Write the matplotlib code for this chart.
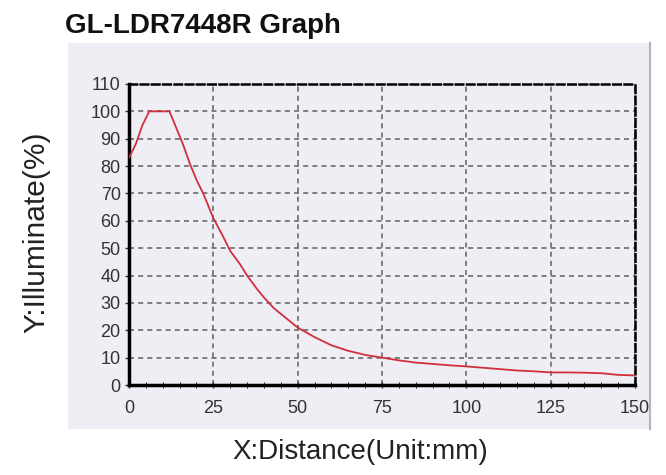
import matplotlib
matplotlib.use("Agg")
import matplotlib.pyplot as plt
from matplotlib.patches import Rectangle
from matplotlib.lines import Line2D
from matplotlib.ticker import MultipleLocator

plt.rcParams['font.family'] = ['Liberation Sans', 'DejaVu Sans']

title = "GL-LDR7448R Graph"
x_label = "X:Distance(Unit:mm)"
y_label = "Y:Illuminate(%)"

distance = [0, 2, 4, 6, 8, 10, 12, 14, 16, 18, 20, 22, 25, 28, 30, 33, 35, 38, 40,
            43, 45, 48, 50, 55, 60, 65, 70, 75, 80, 85, 90, 95, 100, 105, 110, 115,
            120, 125, 130, 135, 140, 145, 150]
illuminate = [83, 88, 95, 100, 100, 100, 100, 94, 88, 81, 75, 70, 61, 54, 49, 44, 40,
              35, 32, 28, 26, 23, 21, 17.5, 14.5, 12.5, 11, 10, 9, 8.2, 7.7, 7.2, 6.8,
              6.3, 5.8, 5.3, 5.0, 4.6, 4.6, 4.5, 4.3, 3.7, 3.5]

x_ticks = [0, 25, 50, 75, 100, 125, 150]
y_ticks = [0, 10, 20, 30, 40, 50, 60, 70, 80, 90, 100, 110]

W, H = 666, 475
fig = plt.figure(figsize=(W / 100, H / 100), dpi=100)
fig.patch.set_facecolor('white')

# marble-like panel
panel = Rectangle((68 / W, 1 - 429 / H), (650 - 68) / W, (429 - 43) / H,
                  transform=fig.transFigure, facecolor='#efeef4', edgecolor='none', zorder=-5)
fig.patches.append(panel)
fig.lines.append(Line2D([650 / W, 650 / W], [1 - 429 / H, 1 - 43 / H],
                        transform=fig.transFigure, color='#b4b4bc', lw=1.5, zorder=-4))

ax = fig.add_axes([129 / W, 1 - 385 / H, (635 - 129) / W, (385 - 84) / H])
ax.set_zorder(2)
ax.set_facecolor('none')
ax.plot(distance, illuminate, color='#d0303c', lw=1.3, zorder=3)

ax.set_xlim(0, 150)
ax.set_ylim(0, 110)
ax.set_xticks(x_ticks)
ax.set_yticks(y_ticks)
ax.xaxis.set_minor_locator(MultipleLocator(5))
ax.tick_params(axis='both', labelsize=13, colors='#333333', width=1, length=3)
ax.tick_params(axis='x', which='both', direction='inout', length=4, pad=9)
ax.tick_params(axis='y', pad=3)

ax.grid(True, which='major', color='#6a6a6a', linestyle=(0, (3, 2.5)), lw=1.2)

for s in ['left', 'bottom']:
    ax.spines[s].set_linewidth(2.5)
    ax.spines[s].set_color('black')
for s in ['top', 'right']:
    ax.spines[s].set_linewidth(1.8)
    ax.spines[s].set_color('black')
    ax.spines[s].set_linestyle((0, (3, 1.5)))

fig.text(65 / W, 1 - 33 / H, title, fontsize=20, fontweight='bold', ha='left',
         va='baseline', color='#111111')
fig.text(360 / W, 1 - 452 / H, x_label, fontsize=20, ha='center', va='center', color='#222222')
fig.text(36 / W, 1 - 232 / H, y_label, fontsize=21.5, ha='center', va='center',
         rotation=90, color='#222222')

fig.savefig('out.png', dpi=100)
